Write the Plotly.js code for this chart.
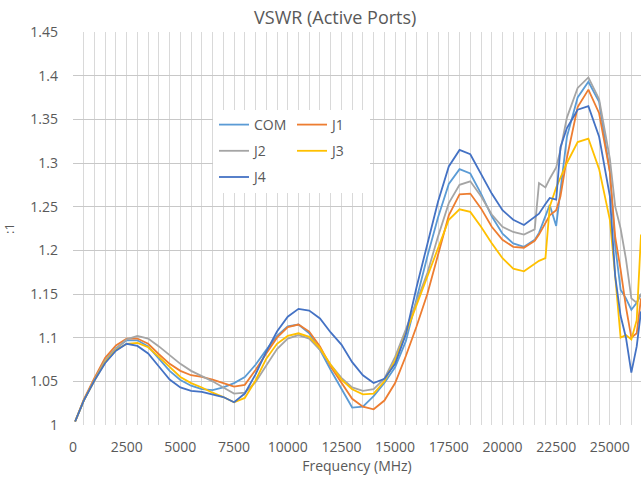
<!DOCTYPE html>
<html>
<head>
<meta charset="utf-8">
<script src="https://cdn.plot.ly/plotly-3.0.1.min.js"></script>
<style>html,body{margin:0;padding:0;background:#fff;}#chart{width:641px;height:480px;}</style>
</head>
<body>
<div id="chart"></div>
<script>
var freqMHz = [100, 500, 1000, 1500, 2000, 2500, 3000, 3500, 4000, 4500, 5000, 5500, 6000, 6500, 7000, 7500, 8000, 8500, 9000, 9500, 10000, 10500, 11000, 11500, 12000, 12500, 13000, 13500, 14000, 14500, 15000, 15500, 16000, 16500, 17000, 17500, 18000, 18500, 19000, 19500, 20000, 20500, 21000, 21500, 21700, 22000, 22200, 22500, 22700, 23000, 23500, 24000, 24500, 25000, 25250, 25500, 25750, 26000, 26250, 26450];

var vswrCOM = [1.004, 1.028, 1.052, 1.074, 1.088, 1.097, 1.097, 1.090, 1.076, 1.062, 1.0515, 1.045, 1.041, 1.040, 1.043, 1.048, 1.055, 1.069, 1.086, 1.102, 1.113, 1.115, 1.105, 1.086, 1.063, 1.042, 1.020, 1.021, 1.033, 1.048, 1.066, 1.096, 1.146, 1.193, 1.238, 1.276, 1.293, 1.288, 1.265, 1.239, 1.219, 1.208, 1.204, 1.212, 1.220, 1.240, 1.252, 1.228, 1.270, 1.330, 1.375, 1.393, 1.370, 1.290, 1.205, 1.155, 1.145, 1.132, 1.140, 1.150];

var vswrJ1 = [1.004, 1.029, 1.054, 1.077, 1.091, 1.099, 1.099, 1.093, 1.081, 1.070, 1.062, 1.057, 1.055, 1.052, 1.048, 1.044, 1.046, 1.063, 1.082, 1.100, 1.112, 1.115, 1.107, 1.090, 1.067, 1.048, 1.030, 1.021, 1.018, 1.028, 1.048, 1.079, 1.113, 1.150, 1.194, 1.240, 1.264, 1.265, 1.248, 1.227, 1.212, 1.204, 1.203, 1.211, 1.218, 1.232, 1.240, 1.246, 1.262, 1.306, 1.364, 1.384, 1.357, 1.290, 1.215, 1.178, 1.135, 1.100, 1.105, 1.145];

var vswrJ2 = [1.004, 1.028, 1.052, 1.074, 1.087, 1.098, 1.102, 1.099, 1.090, 1.080, 1.070, 1.062, 1.056, 1.050, 1.043, 1.036, 1.037, 1.049, 1.068, 1.087, 1.099, 1.103, 1.099, 1.086, 1.069, 1.054, 1.043, 1.039, 1.041, 1.053, 1.078, 1.109, 1.141, 1.174, 1.216, 1.254, 1.275, 1.279, 1.262, 1.241, 1.227, 1.221, 1.218, 1.224, 1.277, 1.272, 1.282, 1.295, 1.315, 1.352, 1.386, 1.398, 1.373, 1.305, 1.250, 1.225, 1.190, 1.145, 1.140, 1.150];

var vswrJ3 = [1.004, 1.028, 1.051, 1.072, 1.086, 1.093, 1.094, 1.089, 1.078, 1.066, 1.055, 1.048, 1.043, 1.037, 1.032, 1.026, 1.031, 1.051, 1.076, 1.093, 1.102, 1.105, 1.101, 1.088, 1.069, 1.052, 1.041, 1.035, 1.036, 1.050, 1.074, 1.105, 1.137, 1.170, 1.202, 1.235, 1.247, 1.244, 1.227, 1.208, 1.191, 1.179, 1.176, 1.184, 1.188, 1.191, 1.250, 1.272, 1.283, 1.300, 1.324, 1.328, 1.293, 1.235, 1.170, 1.100, 1.103, 1.098, 1.120, 1.218];

var vswrJ4 = [1.004, 1.028, 1.051, 1.071, 1.085, 1.093, 1.0905, 1.082, 1.067, 1.052, 1.043, 1.039, 1.038, 1.035, 1.032, 1.026, 1.036, 1.058, 1.084, 1.107, 1.124, 1.133, 1.131, 1.122, 1.106, 1.092, 1.072, 1.057, 1.048, 1.053, 1.070, 1.104, 1.158, 1.207, 1.256, 1.296, 1.315, 1.310, 1.288, 1.265, 1.246, 1.235, 1.229, 1.238, 1.242, 1.253, 1.260, 1.258, 1.318, 1.340, 1.361, 1.365, 1.330, 1.262, 1.170, 1.125, 1.100, 1.060, 1.090, 1.130];

var seriesNames = ['COM', 'J1', 'J2', 'J3', 'J4'];
var seriesColors = ['#5B9BD5', '#ED7D31', '#A5A5A5', '#FFC000', '#4472C4'];
var seriesValues = [vswrCOM, vswrJ1, vswrJ2, vswrJ3, vswrJ4];
var legendFor = ['legend', 'legend2', 'legend', 'legend2', 'legend'];

var yTicks = [1, 1.05, 1.1, 1.15, 1.2, 1.25, 1.3, 1.35, 1.4, 1.45];
var xTicks = [0, 2500, 5000, 7500, 10000, 12500, 15000, 17500, 20000, 22500, 25000];

var FONT = '"Open Sans", "Liberation Sans", sans-serif';
var TXT = '#595959';

var traces = seriesNames.map(function (n, i) {
  return {
    type: 'scatter', mode: 'lines', name: n,
    x: freqMHz, y: seriesValues[i],
    line: {color: seriesColors[i], width: 1.8},
    legend: legendFor[i], legendgroup: n
  };
});

var layout = {
  width: 641, height: 480,
  margin: {l: 73, r: 0, t: 32, b: 55},
  paper_bgcolor: '#ffffff', plot_bgcolor: '#ffffff',
  font: {family: FONT, color: TXT, size: 14},
  title: {text: 'VSWR (Active Ports)', font: {family: FONT, size: 18, color: TXT},
          x: 0.523, xref: 'container', xanchor: 'center', y: 0.963, yref: 'container', yanchor: 'middle'},
  xaxis: {
    range: [0, 26450], tickvals: xTicks, ticktext: xTicks.map(String),
    showgrid: true, gridcolor: '#d9d9d9', gridwidth: 1,
    minor: {dtick: 500, tick0: 0, showgrid: true, gridcolor: '#d9d9d9', gridwidth: 1},
    zeroline: false, showline: false, ticks: '', ticklabelstandoff: 12,
    tickfont: {family: FONT, size: 14, color: TXT},
    title: {text: 'Frequency (MHz)', font: {family: FONT, size: 14, color: TXT}, standoff: 4}
  },
  yaxis: {
    range: [1, 1.45], tickvals: yTicks, ticktext: yTicks.map(String),
    showgrid: true, gridcolor: '#c8c8c8', gridwidth: 1,
    zeroline: false, showline: false, ticks: '', ticklabelstandoff: 14,
    tickfont: {family: FONT, size: 14, color: TXT},
    title: {text: ':1', font: {family: FONT, size: 13, color: TXT}, standoff: 16}
  },
  shapes: [{type: 'rect', xref: 'paper', yref: 'paper', layer: 'above',
            x0: (213 - 73) / 568, x1: (370 - 73) / 568, y0: (425 - 193) / 393, y1: (425 - 110) / 393,
            fillcolor: '#ffffff', line: {width: 0}}],
  legend: {x: (214 - 73) / 568, y: (425 - 109) / 393, xanchor: 'left', yanchor: 'top',
           bgcolor: 'rgba(0,0,0,0)', font: {family: FONT, size: 14, color: TXT},
           traceorder: 'grouped', tracegroupgap: 5, itemwidth: 30},
  legend2: {x: (292 - 73) / 568, y: (425 - 109) / 393, xanchor: 'left', yanchor: 'top',
            bgcolor: 'rgba(0,0,0,0)', font: {family: FONT, size: 14, color: TXT},
            traceorder: 'grouped', tracegroupgap: 5, itemwidth: 30},
  showlegend: true
};
Plotly.newPlot('chart', traces, layout, {displayModeBar: false, staticPlot: true});
</script>
</body>
</html>
